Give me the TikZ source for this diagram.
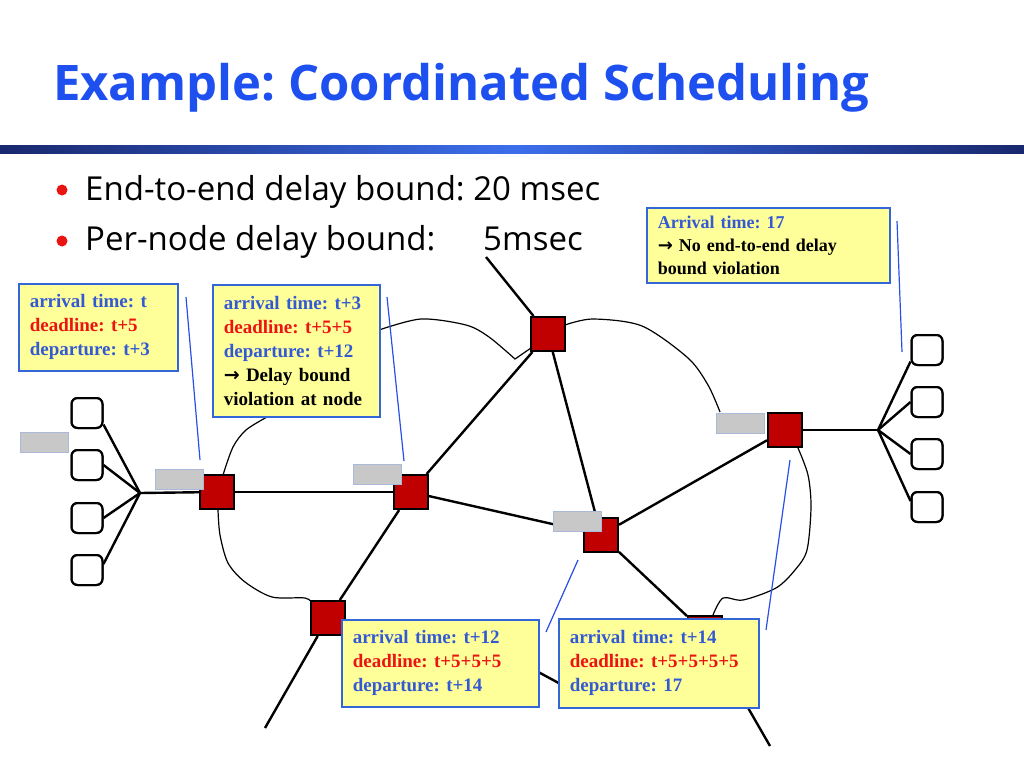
\documentclass[tikz,border=0pt]{standalone}
\usepackage{fontspec}
\setmainfont{Liberation Serif}
\newfontfamily\slidefont{Open Sans}
\newfontfamily\arrowfont{DejaVu Sans}
\usetikzlibrary{positioning}
\frenchspacing

\definecolor{routerred}{RGB}{192,0,0}
\definecolor{boxyellow}{RGB}{255,255,153}
\definecolor{boxblue}{RGB}{51,102,214}
\definecolor{textblue}{RGB}{51,90,210}
\definecolor{textred}{RGB}{235,20,20}
\definecolor{queuegray}{RGB}{200,200,200}
\definecolor{queueedge}{RGB}{170,185,215}
\definecolor{pointerblue}{RGB}{40,80,230}
\definecolor{titleblue}{RGB}{30,80,240}
\definecolor{barnavy}{RGB}{25,40,110}
\definecolor{barblue}{RGB}{60,110,235}

\begin{document}
\begin{tikzpicture}[x=1pt, y=-1pt,
  router/.style={draw, line width=2pt, fill=routerred, minimum size=34pt, inner sep=0pt},
  host/.style={draw, line width=2pt, rounded corners=6pt, minimum width=31pt, minimum height=30pt, inner sep=0pt},
  queue/.style={draw=queueedge, line width=1pt, fill=queuegray, minimum width=48pt, minimum height=20pt, inner sep=0pt},
  link/.style={line width=2.4pt},
  cloud/.style={line width=1.2pt},
  pointer/.style={draw=pointerblue, line width=1.2pt},
  info/.style={draw=boxblue, line width=1.5pt, fill=boxyellow, anchor=north west, align=left,
    inner xsep=11pt, font=\fontsize{19}{24}\selectfont\bfseries}]
\useasboundingbox (0,0) rectangle (1024,768);

% title and bullets
\node[anchor=base west, inner sep=0pt, text=titleblue, font=\slidefont\fontsize{49}{54}\selectfont\bfseries] (title) at (53,100) {Example: Coordinated Scheduling};
\shade[left color=barnavy, right color=barnavy, middle color=barblue] (0,145) rectangle (1024,153);
\fill[textred] (62,190) circle (5.5);
\fill[textred] (62,241) circle (5.5);
\node[anchor=base west, inner sep=0pt, font=\slidefont\fontsize{33}{38}\selectfont] (b1) at (85,200) {End-to-end delay bound: 20 msec};
\node[anchor=base west, inner sep=0pt, font=\slidefont\fontsize{33}{38}\selectfont] (b2) at (85,250) {Per-node delay bound:};
\node[anchor=base west, inner sep=0pt, font=\slidefont\fontsize{33}{38}\selectfont] (b3) at (483,250) {5msec};

% clouds
\draw[cloud] plot[smooth] coordinates {(267,417) (246,430) (233,447) (223,475)};
\draw[cloud] plot[smooth] coordinates {(218,510) (220,535) (228,563) (245,582) (272,597) (305,598) (313,604)};
\draw[cloud] plot[smooth] coordinates {(379,330) (421,319) (466,325) (489,337) (515,359)} -- (531,348);
\draw[cloud] plot[smooth] coordinates {(565,325) (593,319) (642,326) (688,358) (708,385) (720,412)};
\draw[cloud] plot[smooth] coordinates {(798,448) (808,475) (811,507) (807,550) (795,570) (776,588) (743,600) (723,598) (713,615)};

% routers and hosts
\node[router] (r1) at (217,492) {};
\node[router] (r2) at (411,492) {};
\node[router] (r3) at (548,334) {};
\node[router] (r4) at (601,535) {};
\node[router] (r5) at (785,430) {};
\node[router] (r6) at (328,618) {};
\node[router] (r7) at (705,633) {};
\coordinate (hubL) at (140,493);
\coordinate (hubR) at (878,430);
\coordinate (top) at (486,257);
\coordinate (lowL) at (265,728);
\coordinate (lowR) at (770,746);
\coordinate (mid1) at (470,635);
\coordinate (mid2) at (590,700);
\coordinate (under) at (362,655);

\foreach \y [count=\i] in {413,465,518,570}
  \node[host] (hl\i) at (87,\y) {};
\foreach \y [count=\i] in {350,402,454,507}
  \node[host] (hr\i) at (927,\y) {};

\draw[link] (hubL) -- (hl1.-35);
\draw[link] (hubL) -- (hl2.east);
\draw[link] (hubL) -- (hl3.east);
\draw[link] (hubL) -- (hl4.20);
\draw[link] (hubL) -- (r1);
\draw[link] (r1) -- (r2);
\draw[link] (r2) -- (r3);
\draw[link] (r2) -- (r4);
\draw[link] (r2) -- (r6);
\draw[link] (r3) -- (r4);
\draw[link] (r3) -- (top);
\draw[link] (r4) -- (r5);
\draw[link] (r4) -- (r7);
\draw[link] (r5) -- (hubR);
\draw[link] (r6) -- (lowL);
\draw[link] (r6) -- (under);
\draw[link] (mid1) -- (mid2);
\draw[link] (r7) -- (lowR);
\draw[link] (hubR) -- (hr1.-145);
\draw[link] (hubR) -- (hr2.west);
\draw[link] (hubR) -- (hr3.west);
\draw[link] (hubR) -- (hr4.160);
\foreach \n in {r1,r2,r3,r4,r5,r6,r7}
  \node[router] at (\n) {};
\foreach \n in {hl1,hl2,hl3,hl4,hr1,hr2,hr3,hr4}
  \node[host] at (\n) {};

% queues
\node[queue] (q0) at (44,442) {};
\node[queue] (q1) at (179,479) {};
\node[queue] (q2) at (377,474) {};
\node[queue] (q3) at (577,521) {};
\node[queue] (q4) at (740,423) {};

% pointers
\coordinate (p1) at (186,297);
\coordinate (p2) at (387,297);
\coordinate (p3) at (578,560);
\coordinate (p4) at (790,460);
\coordinate (p5) at (897,221);
\draw[pointer] (p1) -- (200,460);
\draw[pointer] (p2) -- (404,461);
\draw[pointer] (p3) -- (546,632);
\draw[pointer] (p4) -- (766,630);
\draw[pointer] (p5) -- (902,352);

% info boxes
\node[info, text width=137pt, minimum height=87pt] (info1) at (18,283)
  {\textcolor{textblue}{arrival time: t}\\ \textcolor{textred}{deadline: t+5}\\ \textcolor{textblue}{departure: t+3}};
\node[info, text width=145pt, minimum height=132pt] (info2) at (212,284)
  {\textcolor{textblue}{arrival time: t+3}\\ \textcolor{textred}{deadline: t+5+5}\\ \textcolor{textblue}{departure: t+12}\\ {\arrowfont →} Delay bound\\ violation at node};
\node[info, text width=175pt, minimum height=87pt] (info3) at (341,619)
  {\textcolor{textblue}{arrival time: t+12}\\ \textcolor{textred}{deadline: t+5+5+5}\\ \textcolor{textblue}{departure: t+14}};
\node[info, text width=178pt, minimum height=89pt] (info4) at (558,618)
  {\textcolor{textblue}{arrival time: t+14}\\ \textcolor{textred}{deadline: t+5+5+5+5}\\ \textcolor{textblue}{departure: 17}};
\node[info, text width=221pt, minimum height=75pt, font=\fontsize{18}{23}\selectfont\bfseries] (info5) at (646,207)
  {\textcolor{textblue}{Arrival time: 17}\\ {\arrowfont →} No end-to-end delay\\ bound violation};
\end{tikzpicture}
\end{document}
